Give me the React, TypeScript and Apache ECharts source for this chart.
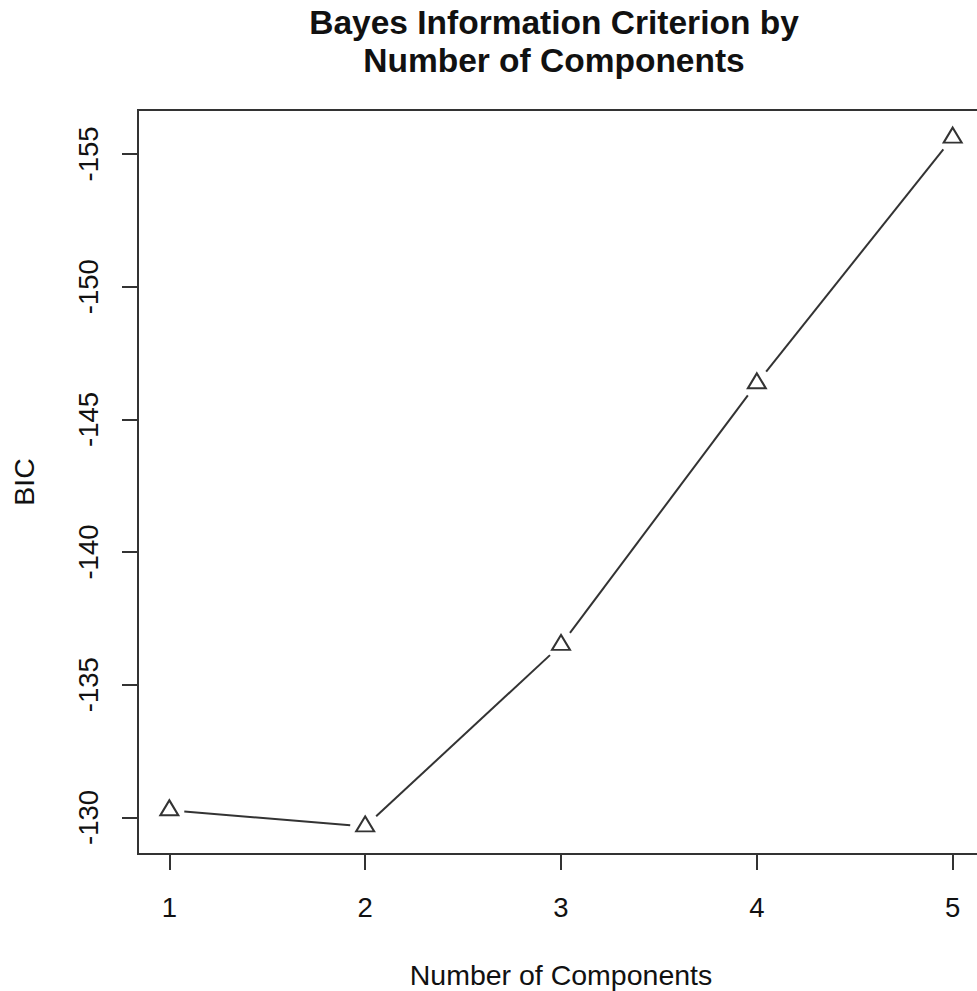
import React, { useEffect, useRef } from "react";
import * as echarts from "echarts";

const components = [1, 2, 3, 4, 5];
const bicValues = [-130.27, -129.66, -136.5, -146.36, -155.62];
const yTicks = [-155, -150, -145, -140, -135, -130];
const titleText = "Bayes Information Criterion by\nNumber of Components";
const xName = "Number of Components";
const yName = "BIC";

const FONT = '"Liberation Sans", Arial, sans-serif';
const INK = "#111";
const LINE = "#333";

export default function App() {
  const ref = useRef<HTMLDivElement>(null);
  useEffect(() => {
    if (!ref.current) return;
    const chart = echarts.init(ref.current, undefined, { renderer: "svg" });
    const xMin = Math.min(...components);
    const xMax = Math.max(...components);
    const xExt = (xMax - xMin) * 0.04;
    const yMin = Math.min(...bicValues);
    const yMax = Math.max(...bicValues);
    const yExt = (yMax - yMin) * 0.04;

    const points = components.map((c, i) => [c, bicValues[i]]);
    const segments = components.slice(0, -1).map((c, i) => [
      c,
      bicValues[i],
      components[i + 1],
      bicValues[i + 1],
    ]);
    const GAP = 15;

    chart.setOption({
      animation: false,
      backgroundColor: "#fff",
      graphic: [
        {
          type: "text",
          x: 554,
          y: 3,
          style: {
            text: titleText,
            fill: INK,
            font: `bold 33.5px ${FONT}`,
            textAlign: "center",
            textVerticalAlign: "top",
            lineHeight: 38,
          },
        },
      ],
      grid: {
        left: 138,
        top: 110,
        width: 846,
        height: 744,
        show: true,
        borderColor: LINE,
        borderWidth: 2,
        backgroundColor: "transparent",
        containLabel: false,
        outerBoundsMode: "none",
      },
      xAxis: {
        type: "value",
        min: xMin - xExt,
        max: xMax + xExt,
        name: xName,
        nameLocation: "middle",
        nameGap: 106,
        nameTextStyle: { fontSize: 28.5, color: INK, fontFamily: FONT },
        axisLine: { show: true, onZero: false, lineStyle: { color: LINE, width: 2 } },
        axisTick: { show: true, customValues: components, length: 16, lineStyle: { color: LINE, width: 2 } },
        axisLabel: {
          customValues: components,
          margin: 39,
          fontSize: 27.5,
          color: INK,
          fontFamily: FONT,
        },
        splitLine: { show: false },
      },
      yAxis: {
        type: "value",
        inverse: true,
        min: yMin - yExt,
        max: yMax + yExt,
        name: yName,
        nameLocation: "middle",
        nameRotate: 90,
        nameGap: 100,
        nameTextStyle: { fontSize: 28.5, color: INK, fontFamily: FONT },
        axisLine: { show: true, onZero: false, lineStyle: { color: LINE, width: 2 } },
        axisTick: { show: true, customValues: yTicks, length: 16, lineStyle: { color: LINE, width: 2 } },
        axisLabel: {
          customValues: yTicks,
          rotate: 90,
          margin: 36,
          fontSize: 27.5,
          color: INK,
          fontFamily: FONT,
        },
        splitLine: { show: false },
      },
      series: [
        {
          type: "custom",
          data: segments,
          silent: true,
          renderItem: (params: any, api: any) => {
            const p0 = api.coord([api.value(0), api.value(1)]);
            const p1 = api.coord([api.value(2), api.value(3)]);
            const dx = p1[0] - p0[0];
            const dy = p1[1] - p0[1];
            const len = Math.sqrt(dx * dx + dy * dy);
            if (len <= 2 * GAP) return null;
            const ux = dx / len;
            const uy = dy / len;
            return {
              type: "line",
              shape: {
                x1: p0[0] + ux * GAP,
                y1: p0[1] + uy * GAP,
                x2: p1[0] - ux * GAP,
                y2: p1[1] - uy * GAP,
              },
              style: { stroke: LINE, lineWidth: 2 },
            };
          },
        },
        {
          type: "scatter",
          data: points,
          symbol: "triangle",
          symbolSize: [18, 15],
          symbolOffset: [0, -2.5],
          itemStyle: { color: "#fff", borderColor: LINE, borderWidth: 2, opacity: 1 },
        },
      ],
    });
    return () => chart.dispose();
  }, []);
  return (
    <div
      ref={ref}
      style={{ position: "fixed", left: 0, top: 0, width: 977, height: 991 }}
    />
  );
}
